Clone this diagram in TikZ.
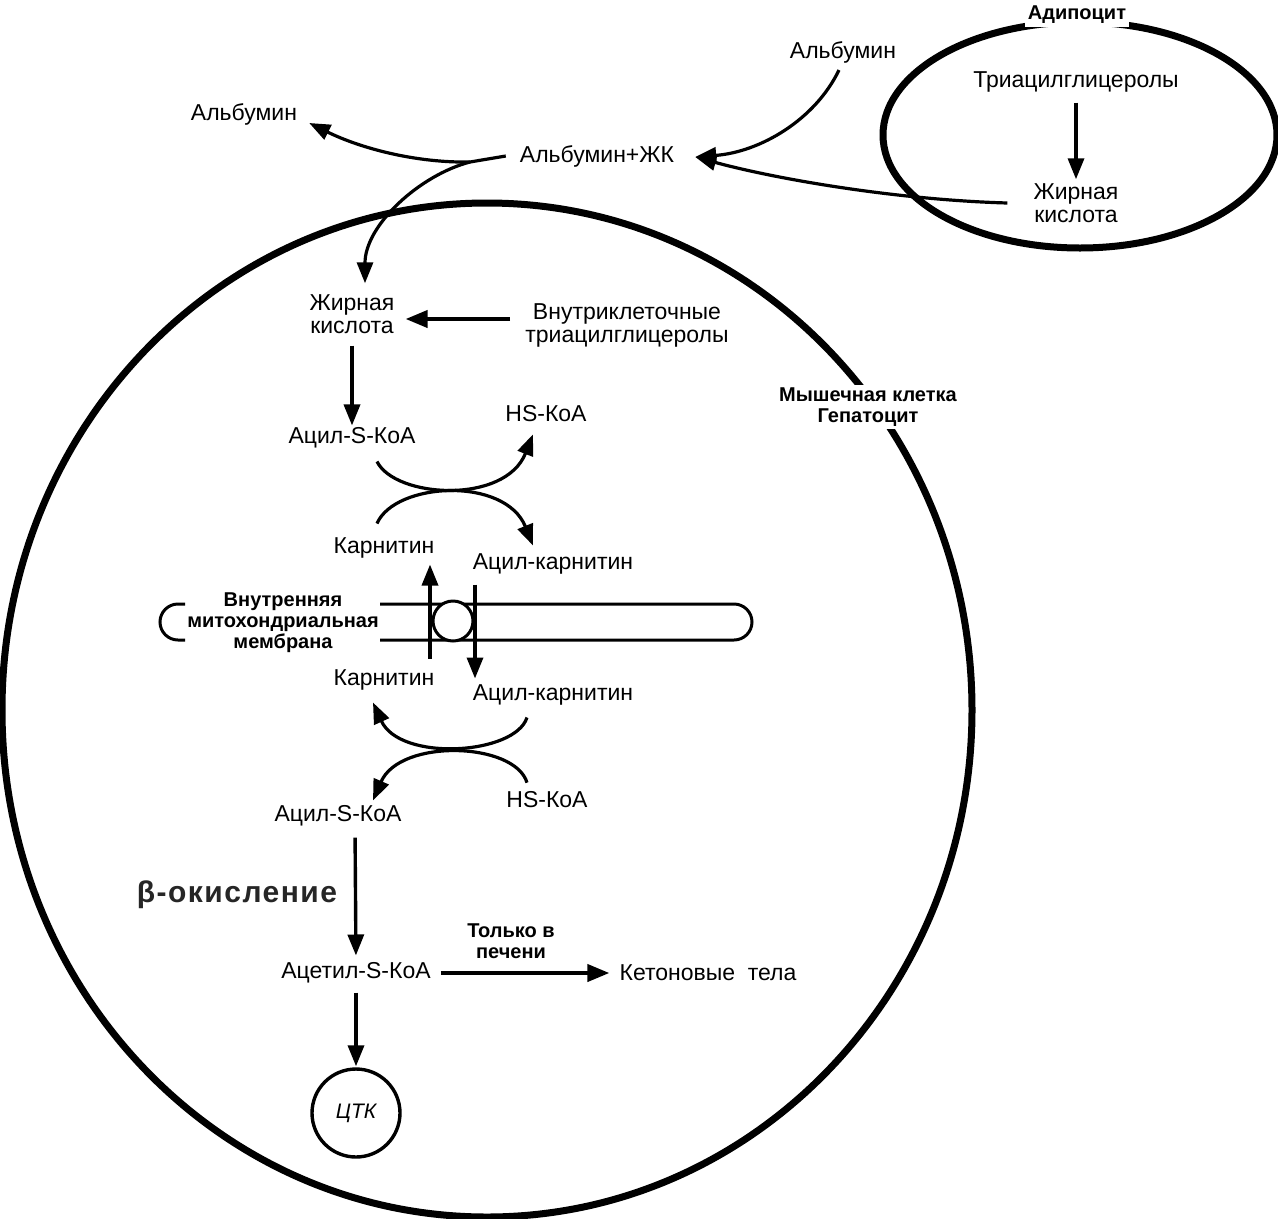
\documentclass[tikz,border=0pt]{standalone}
\usepackage{fontspec}
\setmainfont{Liberation Sans}
\usetikzlibrary{arrows.meta}
\begin{document}
\begin{tikzpicture}[x=1pt,y=-1pt,
  txt/.style={font=\fontsize{23}{23}\selectfont, inner sep=0pt, align=center},
  btxt/.style={font=\bfseries\fontsize{20}{21}\selectfont, inner sep=0pt, align=center},
  arr/.style={line width=3.4pt, -{Triangle[length=21pt,width=16pt]}},
  harr/.style={line width=4pt, -{Triangle[length=22pt,width=17pt]}},
  carr/.style={line width=3.2pt, -{Triangle[length=21pt,width=16pt]}},
  cellline/.style={line width=7pt},
  membline/.style={line width=3pt},
]
\useasboundingbox (0,0) rectangle (1278,1219);
\fill[white] (0,0) rectangle (1278,1219);
% cells
\draw[cellline] (487,710) ellipse [x radius=485, y radius=507];
\draw[cellline] (1080,135) ellipse [x radius=197, y radius=113];
% labels of cells
\node[btxt, fill=white, inner sep=3pt] (adip) at (1077,15) {Адипоцит};
\node[btxt, fill=white, inner sep=3pt] (cell) at (868,407) {Мышечная клетка\\Гепатоцит};
% adipocyte
\node[txt] (tag) at (1076,82) {Триацилглицеролы};
\node[txt] (fa1) at (1076,203) {Жирная\\кислота};
% blood
\node[txt] (alb1) at (843,52) {Альбумин};
\node[txt] (alb2) at (244,114) {Альбумин};
\node[txt] (abjk) at (597,156) {Альбумин+ЖК};
% muscle cell
\node[txt] (fa2) at (352,314) {Жирная\\кислота};
\node[txt] (itag) at (627,325) {Внутриклеточные\\триацилглицеролы};
\node[txt] (acyl1) at (352,438) {Ацил-S-КоА};
\node[txt] (hs1) at (546,414) {HS-КоА};
\node[txt] (carn1) at (384,548) {Карнитин};
\node[txt] (acarn1) at (553,564) {Ацил-карнитин};
\node[btxt] (memb) at (283,623) {Внутренняя\\митохондриальная\\мембрана};
\node[txt] (carn2) at (384,680) {Карнитин};
\node[txt] (acarn2) at (553,695) {Ацил-карнитин};
\node[txt] (hs2) at (547,800) {HS-КоА};
\node[txt] (acyl2) at (338,816) {Ацил-S-КоА};
\node[font=\bfseries\fontsize{30}{30}\selectfont\addfontfeatures{LetterSpace=5}, text=black!85, inner sep=0pt] (beta) at (237,895) {β-окисление};
\node[txt] (acet) at (356,973) {Ацетил-S-КоА};
\node[btxt] (only) at (511,941) {Только в\\печени};
\node[txt] (keto) at (708,973) {Кетоновые\ \ тела};
\node[circle, draw, line width=3.4pt, minimum size=88pt, inner sep=0pt, font=\itshape\fontsize{21}{21}\selectfont] (tca) at (356,1113) {ЦТК};

% membrane
\draw[membline] (185,604) -- (178,604) arc[start angle=-90, end angle=-270, radius=18] -- (185,640);
\draw[membline] (380,604) -- (734,604) arc[start angle=-90, end angle=90, radius=18] -- (380,640);
\node[circle, draw, fill=white, line width=3pt, minimum size=40pt, inner sep=0pt] (carrier) at (453,621) {};
\draw[arr] ([shift={(46pt,11pt)}]carn2.north) -- ([shift={(46pt,-6pt)}]carn1.south);
\draw[arr] ([shift={(-78pt,-10pt)}]acarn1.south) -- ([shift={(-78pt,6pt)}]acarn2.north);

% adipocyte arrow
\draw[arr, shorten <=10pt, shorten >=4pt] (tag.south) -- (fa1.north);

% albumin complex
\coordinate (J) at (470,162);
\draw[carr] ([shift={(-4pt,-7pt)}]alb1.south) .. controls (815,120) and (760,152) .. ([shift={(21pt,-1pt)}]abjk.east);
\draw[carr] ([xshift=-26pt]fa1.west) .. controls (900,200) and (780,180) .. ([shift={(21pt,-1pt)}]abjk.east);
\draw[line width=3.2pt] ([xshift=-14pt]abjk.west) -- (J);
\draw[carr] (J) .. controls (415,163) and (360,148) .. ([shift={(12pt,-9pt)}]alb2.east);
\draw[carr] (J) .. controls (420,175) and (365,225) .. ([shift={(13pt,11pt)}]fa2.north);

% inside cell
\draw[harr, shorten <=15pt, shorten >=11pt] ([yshift=6pt]itag.west) -- ([yshift=-5pt]fa2.east);
\draw[arr, shorten <=12pt, shorten >=2pt] (fa2.south) -- (acyl1.north);

% first exchange
\draw[carr] ([shift={(25pt,-13pt)}]acyl1.south) .. controls (395,498) and (505,505) .. ([shift={(-13pt,-12pt)}]hs1.south);
\draw[carr] ([shift={(-7pt,14pt)}]carn1.north) .. controls (395,482) and (505,476) .. ([shift={(-20pt,8pt)}]acarn1.north);

% second exchange
\draw[carr] ([shift={(-26pt,-12pt)}]acarn2.south) .. controls (515,755) and (400,762) .. ([shift={(-11pt,-12pt)}]carn2.south);
\draw[carr] ([shift={(-20pt,9pt)}]hs2.north) .. controls (515,742) and (400,738) .. ([shift={(35pt,5pt)}]acyl2.north);

% beta oxidation
\draw[arr, shorten <=11pt, shorten >=7pt] ([xshift=17pt]acyl2.south) -- (acet.north);
\draw[harr, shorten <=10pt, shorten >=10pt] (acet.east) -- (keto.west);
\draw[arr, shorten <=9pt, shorten >=1pt] (acet.south) -- (tca.north);
\end{tikzpicture}
\end{document}
